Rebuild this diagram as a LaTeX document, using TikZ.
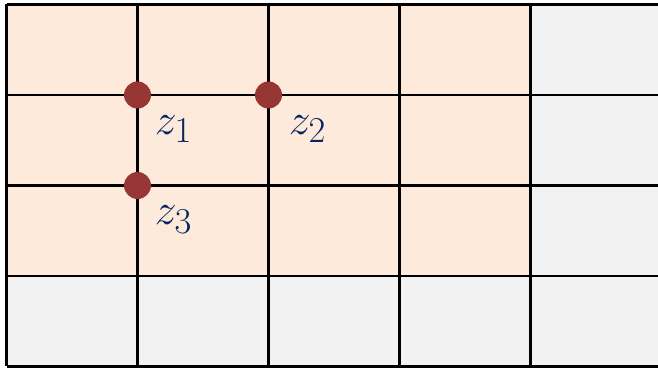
\documentclass[tikz,border=0pt]{standalone}
\usepackage{amsmath}
\usepackage{tikz}
\usetikzlibrary{calc}
\definecolor{cellpeach}{RGB}{253,234,218}
\definecolor{cellgray}{RGB}{242,242,242}
\definecolor{dotred}{RGB}{150,55,54}
\definecolor{labnavy}{RGB}{5,38,98}
\tikzset{
  gridln/.style={black, line width=1.2pt},
  pt/.style={circle, fill=dotred, minimum size=0.54cm, inner sep=0pt},
  lbl/.style={text=labnavy, font=\fontsize{32}{34}\selectfont, inner sep=0pt},
}

\begin{document}
\begin{tikzpicture}[x=2.62cm, y=1.81cm]
  \useasboundingbox (0,0) rectangle (13.16cm,7.36cm);
  \clip (0,0) rectangle (13.16cm,7.36cm);
  \begin{scope}[shift={(0.13cm,0.03cm)}]
    % cells
    \foreach \i in {0,...,4}
      \foreach \j in {0,...,3}
        \fill[cellgray] (\i,\j) rectangle ++(1,1);
    \fill[cellpeach] (0,1) rectangle (4,4);
    % grid lines
    \foreach \i in {0,...,5}
      \draw[gridln] (\i,0) -- (\i,4);
    \foreach \j in {0,...,4}
      \draw[gridln] (0,\j) -- (5,\j);
    % points
    \node[pt] (p1) at (1,3) {};
    \node[pt] (p2) at (2,3) {};
    \node[pt] (p3) at (1,2) {};
    \node[lbl] (z1) at ($(p1)+(0.72cm,-0.68cm)$) {$z_1$};
    \node[lbl] (z2) at ($(p2)+(0.78cm,-0.68cm)$) {$z_2$};
    \node[lbl] (z3) at ($(p3)+(0.72cm,-0.68cm)$) {$z_3$};
  \end{scope}
\end{tikzpicture}
\end{document}
